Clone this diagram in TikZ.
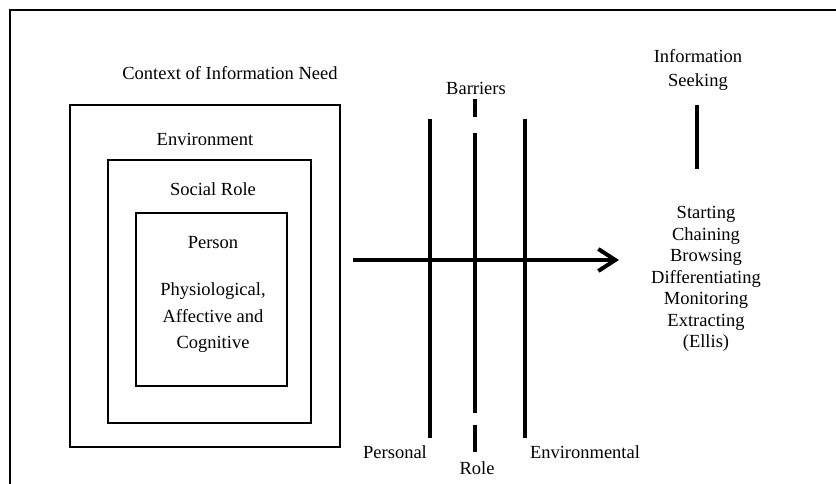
\documentclass[tikz,border=0pt]{standalone}
\usepackage{fontspec}
\setmainfont{Liberation Serif}
\usetikzlibrary{arrows.meta}
\begin{document}
\begin{tikzpicture}[x=1pt,y=-1pt,
  lbl/.style={inner sep=0pt,font=\fontsize{18.5}{22}\selectfont,align=center},
  frame/.style={draw=black,line width=2.6pt},
  bar/.style={draw=black,line width=4pt},
  flow/.style={draw=black,line width=4pt,-{Straight Barb[length=17pt,width=22pt]}}]
\useasboundingbox (0,0) rectangle (836,484);
\clip (0,0) rectangle (836,484);
\fill[white] (0,0) rectangle (836,484);

% nested context boxes
\draw[draw=black,line width=1.8pt] (10,10) rectangle (900,560);
\draw[frame] (70,105) rectangle (340,447);
\draw[frame] (108,160) rectangle (311,423);
\draw[frame] (136,213) rectangle (287,386);

\node[lbl] (ctx) at (230,73) {Context of Information Need};
\node[lbl] (env) at (205,139) {Environment};
\node[lbl] (soc) at (213,189) {Social Role};
\node[lbl] (per) at (213,243) {Person};
\node[lbl,font=\fontsize{18.5}{26.5}\selectfont] (pac) at (213,318) {Physiological,\\Affective and\\Cognitive};

% barriers
\node[lbl] (bar) at (476,88) {Barriers};
\coordinate (p1) at (430,119); \coordinate (p2) at (430,438);
\coordinate (r1) at (475,99);  \coordinate (r2) at (475,117);
\coordinate (r3) at (475,133); \coordinate (r4) at (475,413);
\coordinate (r5) at (475,425); \coordinate (r6) at (475,452);
\coordinate (e1) at (525,119); \coordinate (e2) at (525,438);
\draw[bar] (p1) -- (p2);
\draw[bar] (r1) -- (r2);
\draw[bar] (r3) -- (r4);
\draw[bar] (r5) -- (r6);
\draw[bar] (e1) -- (e2);
\node[lbl] (pl) at (395,452) {Personal};
\node[lbl] (rl) at (477,468) {Role};
\node[lbl] (el) at (585,452) {Environmental};

% flow towards information seeking
\coordinate (a1) at (353,260);
\coordinate (a2) at (619,260);
\draw[flow] (a1) -- (a2);

\node[lbl,font=\fontsize{18.5}{24}\selectfont] (is) at (698,70) {Information\\Seeking};
\coordinate (s1) at (697,105); \coordinate (s2) at (697,169);
\draw[bar] (s1) -- (s2);
\node[lbl,font=\fontsize{18.5}{21.5}\selectfont] (ellis) at (706,279)
  {Starting\\Chaining\\Browsing\\Differentiating\\Monitoring\\Extracting\\(Ellis)};
\end{tikzpicture}
\end{document}
